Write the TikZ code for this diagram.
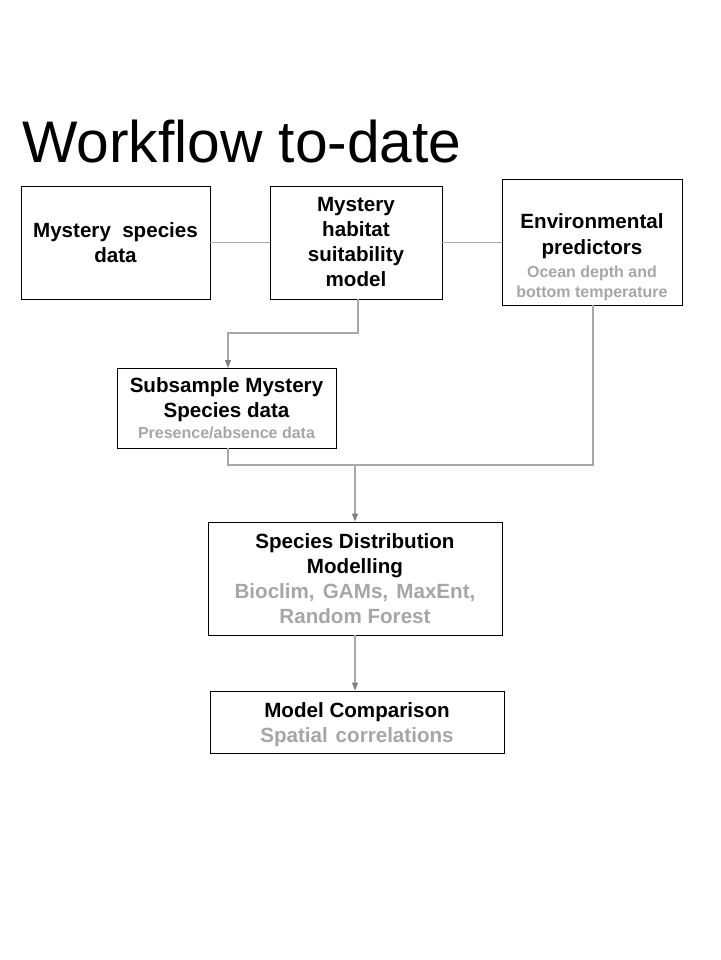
\documentclass[tikz,border=0pt]{standalone}
\usepackage{fontspec}
\setmainfont{Liberation Sans}
\usetikzlibrary{arrows.meta}
\definecolor{subgray}{HTML}{A6A6A6}
\definecolor{linegray}{HTML}{A8A8A8}
\definecolor{tipgray}{HTML}{7F7F7F}
\tikzset{
  box/.style={draw=black, line width=0.9pt, inner sep=0pt, align=center, font=\bfseries\fontsize{20.6}{25}\selectfont},
  boxtext/.style={inner sep=0pt, align=center, font=\bfseries\fontsize{20.6}{25}\selectfont},
  conn/.style={draw=linegray, line width=1.1pt},
  arr/.style={conn, -{Triangle[length=8pt,width=6pt,color=tipgray]}},
}
\begin{document}
\begin{tikzpicture}[x=1pt,y=-1pt]
\useasboundingbox (0,0) rectangle (720,960);
\node[anchor=base west, inner sep=0pt, font=\fontsize{58.7}{60}\selectfont] (title) at (22,163) {Workflow to-date};

\node[box, minimum width=189pt, minimum height=113pt] (A) at (115.5,242.5) {Mystery\hspace{0.55em}species\\data};
\node[box, minimum width=172pt, minimum height=113pt] (B) at (356,242.5) {Mystery\\habitat\\suitability\\model};
\node[box, minimum width=180pt, minimum height=126pt] (C) at (592,242) {};
\node[boxtext, font=\bfseries\fontsize{20.6}{26}\selectfont] (Ct) at (592,257) {Environmental\\predictors\\[-3pt]{\color{subgray}\fontsize{16}{20}\selectfont Ocean depth and}\\[-6pt]{\color{subgray}\fontsize{16}{20}\selectfont bottom temperature}};
\node[box, minimum width=219pt, minimum height=80pt] (D) at (226.5,408) {Subsample Mystery\\Species data\\[-4pt]{\color{subgray}\fontsize{16}{20}\selectfont Presence/absence data}};
\node[box, minimum width=294pt, minimum height=113pt] (E) at (355,578.5) {Species Distribution\\Modelling\\{\color{subgray}Bioclim,\hspace{0.4em}GAMs,\hspace{0.4em}MaxEnt,}\\{\color{subgray}Random Forest}};
\node[box, minimum width=294pt, minimum height=62pt] (F) at (357,722) {};
\node[boxtext] (Ft) at (357,725) {Model Comparison\\{\color{subgray}Spatial\hspace{0.38em}correlations}};

\coordinate (Bs) at (358,299);
\coordinate (Dn) at (228,368);
\coordinate (Ds) at (228,448);
\coordinate (Cs) at (593,305);
\coordinate (J) at (355,465);

\draw[conn] (A.east) -- (B.west);
\draw[conn] (B.east) -- (B.east -| C.west);
\draw[arr] (Bs) -- ++(0,34) -| (Dn);
\draw[conn] (Ds) |- (J) -| (Cs);
\draw[arr] (J) -- (J |- E.north);
\draw[arr] (E.south) -- (E.south |- F.north);
\end{tikzpicture}
\end{document}
